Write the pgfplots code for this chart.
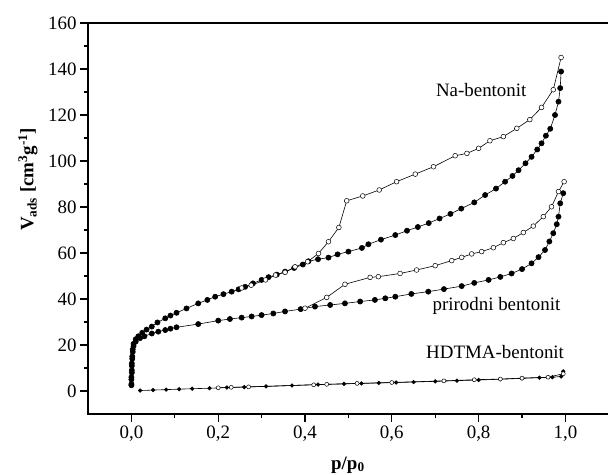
\documentclass[border=0pt]{standalone}
\usepackage{fontspec}
\setmainfont{Liberation Serif}
\usepackage{pgfplots}
\pgfplotsset{compat=1.18}
\begin{document}
\begin{tikzpicture}[font=\fontsize{19}{22}\selectfont]
\begin{axis}[
  scale only axis, width=523bp, height=391bp,
  xmin=-0.1, xmax=1.105, ymin=-10, ymax=160,
  xtick={0,0.2,0.4,0.6,0.8,1.0},
  xticklabels={{0,0},{0,2},{0,4},{0,6},{0,8},{1,0}},
  ytick={0,20,40,60,80,100,120,140,160},
  minor x tick num=1, minor y tick num=1,
  xtick pos=bottom, ytick pos=left,
  tick align=outside,
  major tick length=8bp, minor tick length=4bp,
  axis line style={line width=1.2pt},
  every tick/.style={black, line width=1.1pt},
  /pgf/number format/assume math mode=true,
  every axis y label/.style={at={(axis description cs:-0.115,0.6)},rotate=90,anchor=center},
  every axis x label/.style={at={(axis description cs:0.497,-0.13)},anchor=center},
  ylabel={\textbf{V\textsubscript{ads} [cm\textsuperscript{3}g\textsuperscript{-1}]}},
  xlabel={\textbf{p/p\textsubscript{0}}},
  clip=false,
]
% Na-bentonit adsorption
\addplot[black, line width=0.6pt, mark=*, mark size=2.6pt, mark options={fill=black}] coordinates {
(0.000,3) (0.000,6) (0.001,9) (0.001,12) (0.002,15) (0.003,18) (0.005,20.5) (0.010,22.5)
(0.016,23.8) (0.025,25.3) (0.035,26.7) (0.047,28) (0.060,29.8) (0.078,31.6) (0.090,32.8)
(0.104,34) (0.127,35.9) (0.154,38.1) (0.175,39.6) (0.193,41) (0.212,42.1) (0.231,43.2)
(0.247,44.2) (0.262,45.3) (0.280,46.8) (0.300,48.3) (0.316,49.5) (0.335,50.6) (0.354,51.9)
(0.375,53.5) (0.395,55) (0.408,56.4) (0.430,57.3) (0.454,58) (0.475,59.4) (0.500,60.6)
(0.531,62.2) (0.546,63.8) (0.575,65.8) (0.608,67.8) (0.635,69.7) (0.660,71.3) (0.685,73)
(0.710,75) (0.735,77) (0.760,79.3) (0.790,82) (0.815,85.2) (0.840,88) (0.861,91)
(0.878,93.5) (0.892,96) (0.908,99) (0.922,101.8) (0.935,105) (0.945,107.7) (0.955,111)
(0.965,114) (0.976,120) (0.984,125.8) (0.988,131.7) (0.990,138.9)
};
% Na-bentonit desorption
\addplot[black, line width=0.6pt, mark=*, mark size=2.4pt, mark options={fill=white, line width=0.5pt}] coordinates {
(0.990,145) (0.972,131) (0.945,123.3) (0.918,118) (0.888,114.2) (0.857,110.6) (0.826,108.8)
(0.800,105.5) (0.773,103.3) (0.746,102.3) (0.696,97.5) (0.654,94.3) (0.611,91) (0.571,87.4)
(0.533,84.8) (0.496,82.7) (0.478,71.1) (0.454,64.9) (0.431,59.8) (0.406,56.2) (0.377,54)
(0.354,51.6) (0.332,50.4) (0.309,48.3) (0.276,46) (0.254,44.8)
};
% prirodni bentonit adsorption
\addplot[black, line width=0.6pt, mark=*, mark size=2.6pt, mark options={fill=black}] coordinates {
(0.000,2.5) (0.000,5) (0.001,8) (0.001,11) (0.002,14) (0.003,17) (0.005,19.5) (0.010,21.5)
(0.020,23) (0.030,23.8) (0.047,25) (0.062,25.8) (0.078,26.5) (0.090,27.1) (0.104,27.7)
(0.154,29.1) (0.200,30.6) (0.227,31.3) (0.254,31.9) (0.277,32.4) (0.300,33) (0.327,33.7)
(0.354,34.6) (0.390,35.6) (0.423,36.7) (0.458,37.4) (0.492,38.1) (0.527,38.9) (0.561,39.6)
(0.585,40.3) (0.608,41) (0.645,42.2) (0.684,43.2) (0.720,44.3) (0.761,45.6) (0.790,47)
(0.823,48.3) (0.850,49.6) (0.876,51.1) (0.900,53) (0.922,55.5) (0.938,58.2) (0.953,61.3)
(0.963,65) (0.972,68.6) (0.980,72.5) (0.984,75.8) (0.988,81.6) (0.995,86)
};
% prirodni bentonit desorption
\addplot[black, line width=0.6pt, mark=*, mark size=2.4pt, mark options={fill=white, line width=0.5pt}] coordinates {
(0.997,91) (0.984,86.7) (0.968,80.1) (0.949,75.8) (0.926,71.7) (0.903,68.9) (0.880,66.3)
(0.857,64.5) (0.834,62.3) (0.807,60.6) (0.784,59.6) (0.761,58.1) (0.738,56.7) (0.700,54.5)
(0.657,52.6) (0.619,51.1) (0.569,49.7) (0.550,49.4) (0.492,46.4) (0.450,40.7) (0.400,36)
};
% HDTMA-bentonit adsorption
\addplot[black, line width=0.6pt, mark=*, mark size=1.8pt, mark options={fill=black}] coordinates {
(0.02,0.2) (0.05,0.4) (0.08,0.6) (0.11,0.8) (0.14,1.0) (0.18,1.2) (0.22,1.5) (0.26,1.7)
(0.31,2.0) (0.37,2.4) (0.43,2.8) (0.49,3.1) (0.53,3.3) (0.57,3.5) (0.61,3.7) (0.65,3.9)
(0.70,4.2) (0.75,4.5) (0.80,4.8) (0.85,5.1) (0.90,5.5) (0.94,5.8) (0.97,6.0) (0.99,6.3) (0.995,8.5)
};
% HDTMA-bentonit desorption
\addplot[black, line width=0.6pt, mark=*, mark size=2pt, mark options={fill=white, line width=0.5pt}] coordinates {
(0.995,7.5) (0.96,6.0) (0.90,5.6) (0.85,5.2) (0.79,4.9) (0.72,4.4) (0.60,3.7) (0.52,3.3)
(0.45,2.9) (0.42,2.7) (0.27,1.8) (0.23,1.6) (0.20,1.4)
};
\node at (axis cs:0.806,130.9) {Na-bentonit};
\node at (axis cs:0.841,37) {prirodni bentonit};
\node at (axis cs:0.838,17.1) {HDTMA-bentonit};
\end{axis}
\pgfresetboundingbox
\useasboundingbox (-88bp,-61bp) rectangle (520bp,414bp);
\end{tikzpicture}
\end{document}
